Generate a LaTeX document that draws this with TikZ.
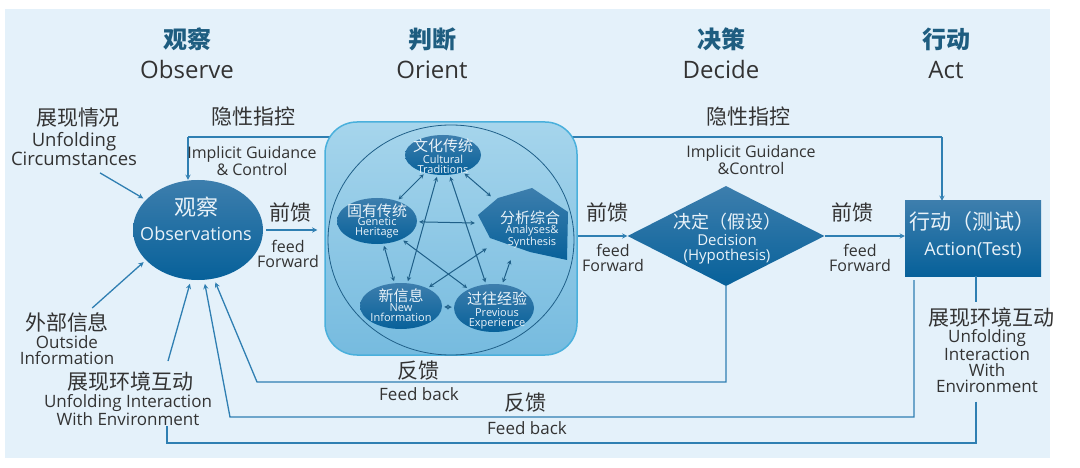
\documentclass[tikz,border=0pt]{standalone}
\usepackage{fontspec}
\setmainfont{Open Sans}
\newfontfamily\zhfont{Noto Sans CJK SC}
\usetikzlibrary{shapes.geometric}

\definecolor{bgblue}{HTML}{E4F1FA}
\definecolor{nodetop}{HTML}{3D7EAD}
\definecolor{nodebot}{HTML}{07619A}
\definecolor{orienttop}{HTML}{A6D5EC}
\definecolor{orientbot}{HTML}{76BBDF}
\definecolor{orientedge}{HTML}{4AB0DC}
\definecolor{flowblue}{HTML}{2F7FB2}
\definecolor{innerline}{HTML}{1F5F88}
\definecolor{titleblue}{HTML}{1E5D80}
\definecolor{labelgray}{HTML}{333333}
\definecolor{paletext}{HTML}{EAF3F9}

\newcommand{\fsz}[2]{\fontsize{#1}{#2}\selectfont}

\tikzset{
  darknode/.style={top color=nodetop, bottom color=nodebot, draw=none, inner sep=0pt},
  flow/.style={->, draw=flowblue, line width=1.3pt},
  plainline/.style={draw=flowblue, line width=1.3pt},
  twoway/.style={<->, draw=innerline, line width=1pt, shorten <=2pt, shorten >=2pt},
  txt/.style={inner sep=0pt, align=center},
  phase/.style={txt, text=titleblue, font=\zhfont\bfseries\fsz{24}{26}},
  phaseen/.style={txt, text=labelgray, font=\fsz{24}{26}},
  zhlab/.style={txt, text=labelgray, font=\zhfont\fsz{21}{23}},
  enlab/.style={txt, text=labelgray, font=\fsz{17}{16}},
  smalllab/.style={txt, text=labelgray, font=\fsz{16}{15}},
  zhwhite/.style={txt, text=paletext, font=\zhfont\fsz{20}{22}},
  enwhite/.style={txt, text=paletext, font=\fsz{17}{16}},
  zhtiny/.style={txt, text=paletext, font=\zhfont\fsz{15}{16}},
  entiny/.style={txt, text=paletext, font=\fsz{11}{10}},
}

\begin{document}
\begin{tikzpicture}[x=1pt, y=-1pt, >=stealth]
    \useasboundingbox (0,0) rectangle (1080,468);
    \fill[bgblue] (5,9) rectangle (1050,458);

    % phase headings
    \node[phase] (hObs) at (187,39) {观察};
    \node[phaseen] (hObsEn) at (187,70) {Observe};
    \node[phase] (hOri) at (432,39) {判断};
    \node[phaseen] (hOriEn) at (432,70) {Orient};
    \node[phase] (hDec) at (721,39) {决策};
    \node[phaseen] (hDecEn) at (721,70) {Decide};
    \node[phase] (hAct) at (946,39) {行动};
    \node[phaseen] (hActEn) at (946,70) {Act};

    % implicit guidance line (behind the orient box)
    \coordinate (igL) at (188,137);
    \coordinate (igR) at (942,137);
    \draw[plainline] (igL) -- (igR);

    % Orient
    \node[draw=orientedge, line width=1.5pt, rounded corners=32pt, top color=orienttop, bottom color=orientbot,
          minimum width=252, minimum height=233, inner sep=0pt] (orient) at (451,238.5) {};
    \node[draw=innerline, line width=0.8pt, ellipse, minimum width=246, minimum height=230, inner sep=0pt] (ring) at (451,240) {};

    \node[darknode, ellipse, minimum width=76, minimum height=40] (ct) at (443,155) {};
    \node[darknode, ellipse, minimum width=80, minimum height=46] (gh) at (377,221) {};
    \node[darknode, ellipse, minimum width=82, minimum height=46] (ni) at (401,306) {};
    \node[darknode, ellipse, minimum width=80, minimum height=48] (pe) at (494,308) {};
    \node[ellipse, minimum width=92, minimum height=70, inner sep=0pt] (as) at (523,224) {};
    \shade[top color=nodetop, bottom color=nodebot] (478,215) -- (498,198) -- (532,188) -- (568,212)
        -- (567,260) -- (530,252) -- (490,238) -- cycle;

    \node[zhtiny] (ctZh) at (443,146) {文化传统};
    \node[entiny] (ctEn) at (443,164) {Cultural\\Traditions};
    \node[zhtiny] (ghZh) at (377,211) {固有传统};
    \node[entiny] (ghEn) at (377,228) {Genetic\\Heritage};
    \node[zhtiny] (asZh) at (530,218) {分析综合};
    \node[entiny] (asEn) at (532,237) {Analyses\&\\Synthesis};
    \node[zhtiny] (niZh) at (401,296) {新信息};
    \node[entiny] (niEn) at (401,313) {New\\Information};
    \node[zhtiny] (peZh) at (497,299) {过往经验};
    \node[entiny] (peEn) at (497,319) {Previous\\Experience};

    \draw[twoway] (ct) -- (gh);
    \draw[twoway] (ct) -- (as);
    \draw[twoway] (gh) -- (as);
    \draw[twoway] (gh) -- (ni);
    \draw[twoway] (as) -- (pe);
    \draw[twoway] (ni) -- (pe);
    \draw[twoway] (ni) -- (ct);
    \draw[twoway] (pe) -- (ct);
    \draw[twoway] (gh) -- (pe);
    \draw[twoway] (ni) -- (as);

    % Observe
    \node[darknode, ellipse, minimum width=130, minimum height=100] (obs) at (198,230) {};
    \node[zhwhite, font=\zhfont\fsz{22}{24}] (obsZh) at (196,207) {观察};
    \node[enwhite, font=\fsz{18}{18}] (obsEn) at (196,234) {Observations};

    % Decide
    \node[darknode, diamond, minimum width=197, minimum height=100] (dec) at (726,236) {};
    \node[zhwhite, font=\zhfont\fsz{18}{20}] (decZh) at (727,222) {决定（假设）};
    \node[enwhite, font=\fsz{15}{15}] (decEn) at (727,249) {Decision\\(Hypothesis)};

    % Act
    \node[darknode, rectangle, minimum width=136, minimum height=75] (act) at (973,238.5) {};
    \node[zhwhite, font=\zhfont\fsz{21}{23}] (actZh) at (972,222) {行动（测试）};
    \node[enwhite, font=\fsz{18}{18}] (actEn) at (973,250) {Action(Test)};

    % guidance arrows
    \draw[flow] (igL) -- (igL |- obs.north);
    \draw[flow] (igR) -- (igR |- act.north);
    \node[zhlab] (igZhL) at (253,117) {隐性指控};
    \node[smalllab] (igEnL) at (252,161) {Implicit Guidance\\\& Control};
    \node[zhlab] (igZhR) at (748,117) {隐性指控};
    \node[smalllab] (igEnR) at (751,160) {Implicit Guidance\\\&Control};

    % feed forward
    \draw[flow, shorten <=3pt, shorten >=7pt] (obs.east) -- (obs.east -| orient.west);
    \draw[flow] (orient.east |- dec.west) -- (dec.west);
    \draw[flow] (dec.east) -- (act.west |- dec.east);
    \node[zhlab] (ff1Zh) at (290,212) {前馈};
    \node[smalllab] (ff1En) at (288,254) {feed\\Forward};
    \node[zhlab] (ff2Zh) at (607,212) {前馈};
    \node[smalllab] (ff2En) at (613,258) {feed\\Forward};
    \node[zhlab] (ff3Zh) at (852,212) {前馈};
    \node[smalllab] (ff3En) at (860,258) {feed\\Forward};

    % inputs to Observe
    \node[zhlab] (circZh) at (78,118) {展现情况};
    \node[enlab, font=\fsz{18.5}{18}] (circEn) at (74,149) {Unfolding\\Circumstances};
    \draw[flow, shorten >=3pt] ([xshift=26pt,yshift=-7pt]circEn.south) -- (obs.150);
    \node[zhlab] (outZh) at (67,322) {外部信息};
    \node[enlab] (outEn) at (67,350) {Outside\\Information};
    \draw[flow, shorten >=3pt] ([xshift=-17pt,yshift=4pt]outZh.north east) -- (obs.210);
    \node[zhlab] (envLZh) at (130,381) {展现环境互动};
    \node[enlab] (envLEn) at (128,410) {Unfolding Interaction\\With Environment};
    \draw[flow, shorten >=4pt] ([xshift=38pt,yshift=10pt]envLZh.north) -- (obs.262);

    % feedback loops
    \coordinate (fbA) at (257,382);
    \draw[flow, shorten >=4pt] (dec.south) |- (fbA) -- (obs.288);
    \node[zhlab] (fbAZh) at (418,371) {反馈};
    \node[enlab] (fbAEn) at (419,394) {Feed back};

    \coordinate (actL) at ([xshift=-59pt,yshift=-4pt]act.south);
    \coordinate (fbB) at (230,417);
    \draw[flow, shorten >=4pt] (actL) |- (fbB) -- (obs.277);
    \node[zhlab] (fbBZh) at (525,403) {反馈};
    \node[enlab] (fbBEn) at (527,428) {Feed back};

    \node[zhlab] (envRZh) at (991,317) {展现环境互动};
    \node[enlab] (envREn) at (987,361) {Unfolding\\Interaction\\With\\Environment};
    \coordinate (actR) at ([xshift=3pt]act.south);
    \coordinate (fbC) at (167,443);
    \draw[plainline, shorten >=5pt] (actR) -- (actR |- envRZh.north);
    \draw[plainline, shorten <=9pt] (actR |- envREn.south) |- (fbC) -- (fbC |- envLEn.south);
\end{tikzpicture}
\end{document}
